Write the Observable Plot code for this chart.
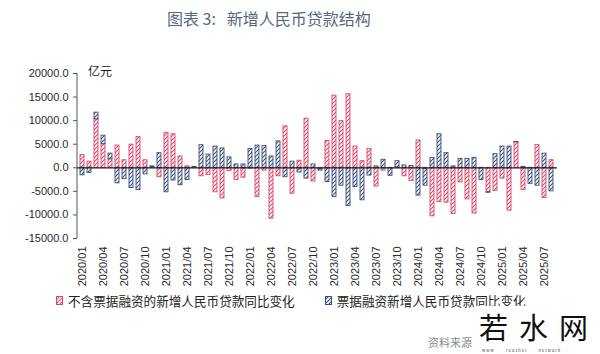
<!DOCTYPE html>
<html><head><meta charset="utf-8">
<script src="https://cdn.jsdelivr.net/npm/d3@7"></script>
<script src="https://cdn.jsdelivr.net/npm/@observablehq/plot@0.6"></script>
<style>
body{margin:0;background:#fff;}
#wrap{position:relative;width:600px;height:354px;overflow:hidden;font-family:"Noto Sans CJK SC","Noto Sans",sans-serif;background:#fff;}
#chart{position:absolute;left:0;top:0;}
#title{position:absolute;left:167px;top:6px;font-size:16px;color:#56667f;white-space:pre;}
#unit{position:absolute;left:88px;top:62px;font-size:12px;color:#222;}
#legend{position:absolute;left:56px;top:291px;font-size:12.6px;color:#222;white-space:nowrap;display:flex;align-items:center;}
#legend .item{display:flex;align-items:center;margin-right:30px;}
#legend svg{margin-right:4px;}
#source{position:absolute;left:428px;top:334px;font-size:11px;color:#8a8a8a;}
#wm{position:absolute;left:474px;top:306px;width:126px;height:48px;background:#fff;}
#wm .big{position:absolute;left:5px;top:6px;font-size:29px;line-height:29px;font-weight:400;color:#111;letter-spacing:11px;white-space:nowrap;}
#wm .small{position:absolute;left:8px;top:42px;font-size:4px;line-height:4px;color:#444;letter-spacing:1px;white-space:pre;}
</style></head><body>
<svg width="0" height="0" style="position:absolute">
<defs>
<pattern id="hatchRed" patternUnits="userSpaceOnUse" width="4" height="4">
<rect width="4" height="4" fill="#fff"/>
<path d="M-1,1 l2,-2 M0,4 l4,-4 M3,5 l2,-2" stroke="#d8486c" stroke-width="1.1"/>
</pattern>
<pattern id="hatchBlue" patternUnits="userSpaceOnUse" width="4" height="4">
<rect width="4" height="4" fill="#fff"/>
<path d="M-1,1 l2,-2 M0,4 l4,-4 M3,5 l2,-2" stroke="#3b4e7a" stroke-width="1.1"/>
</pattern>
</defs>
</svg>
<div id="wrap">
  <div id="chart"></div>
  <div id="title">图表 3:   新增人民币贷款结构</div>
  <div id="unit">亿元</div>
  <div id="legend"></div>
  <div id="source">资料来源</div>
  <div id="wm"><div class="big">若水网</div><div class="small">www      ruoshui      network</div></div>
</div>
<script>
// categories: months 2020/01 .. 2025/08
const months = [];
for (let y = 2020; y <= 2025; y++) {
  for (let m = 1; m <= 12; m++) {
    if (y === 2025 && m > 8) break;
    months.push(`${y}/${String(m).padStart(2, "0")}`);
  }
}
const xTickLabels = months.filter((d, i) => i % 3 === 0);
const yTicks = [-15000, -10000, -5000, 0, 5000, 10000, 15000, 20000];

const seriesNames = ["不含票据融资的新增人民币贷款同比变化", "票据融资新增人民币贷款同比变化"];
const seriesColors = ["#d8486c", "#3b4e7a"];
const seriesPatterns = ["url(#hatchRed)", "url(#hatchBlue)"];

// 不含票据融资的新增人民币贷款同比变化 (亿元)
const nonBillChange = [
  2700, 1300, 10300, 5000, 1800, 4700, 1600, 4900, 6500, 1600, 150, -2000,
  7400, 7100, 2400, 300, 100, -1800, -1500, -5200, -6500, -700, -2600, -2100,
  -200, -6200, -600, -10800, -1800, 8800, -5500, 1500, 10400, -2900, -300, 5700,
  15300, 9900, 15600, 4500, 1400, 4000, -4000, -600, -100, 100, -1800, -2800,
  5800, -300, -10300, -7300, -7400, -9800, -3100, -6700, -9700, -100, -5200, -4900,
  -2300, -9100, 5400, -4700, -100, 4800, -6400, 1600
];
// 票据融资新增人民币贷款同比变化 (亿元)
const billChange = [
  -1600, -1100, 1400, 1800, 1200, -3300, -2400, -4300, -4700, -1400, 150, 3100,
  -5200, -2700, -3700, -2600, 100, 4800, 2800, 4500, 4100, 2200, 700, 700,
  4000, 4700, 4600, 2400, 5600, -2000, 1300, -1000, -2300, 700, -300, -3000,
  -6200, -3800, -8100, -4100, -6900, -1650, 300, 1700, -1600, 1300, 500, 400,
  -5900, -3500, 2100, 7100, 3100, 300, 1900, 1900, 2100, -2500, -100, 2900,
  4500, 4500, 100, 200, -3300, -3800, 3000, -5000
];

const data = months.flatMap((m, i) => [
  {month: m, s: 0, value: nonBillChange[i]},
  {month: m, s: 1, value: billChange[i]}
]);

const plot = Plot.plot({
  width: 600,
  height: 354,
  marginTop: 73,
  marginBottom: 116,
  marginLeft: 77,
  marginRight: 43,
  style: {fontFamily: "'Liberation Sans', Arial, sans-serif", fontSize: "11px", color: "#2a2a2a", background: "transparent"},
  x: {domain: months, padding: 0.42, axis: null},
  y: {domain: [-15000, 20000], axis: null},
  color: {type: "identity"},
  marks: [
    Plot.barY(data, Plot.stackY({
      x: "month", y: "value", z: "s",
      fill: d => seriesPatterns[d.s],
      stroke: d => seriesColors[d.s],
      strokeWidth: 0.9
    })),
    Plot.ruleY([0], {stroke: "#1a1a1a", strokeWidth: 1.2}),
    Plot.axisY({ticks: yTicks, tickFormat: d => d.toFixed(1), tickSize: 4, tickPadding: 5, label: null, stroke: "#555"}),
    Plot.axisX({ticks: xTickLabels, tickRotate: -90, tickSize: 0, tickPadding: 8, label: null})
  ]
});

// vertical y-axis line, positioned from the plot's own scale
const ys = plot.scale("y");
d3.select(plot).append("line")
  .attr("x1", 77).attr("x2", 77)
  .attr("y1", ys.apply(20000)).attr("y2", ys.apply(-15000))
  .attr("stroke", "#555").attr("stroke-width", 1);

document.getElementById("chart").appendChild(plot);

// legend
const legend = document.getElementById("legend");
seriesNames.forEach((name, i) => {
  const item = document.createElement("div");
  item.className = "item";
  item.innerHTML = `<svg width="8" height="10"><rect x="0.5" y="0.5" width="6" height="8" fill="${seriesPatterns[i]}" stroke="${seriesColors[i]}" stroke-width="1"/></svg><span>${name}</span>`;
  legend.appendChild(item);
});
</script>
</body></html>
